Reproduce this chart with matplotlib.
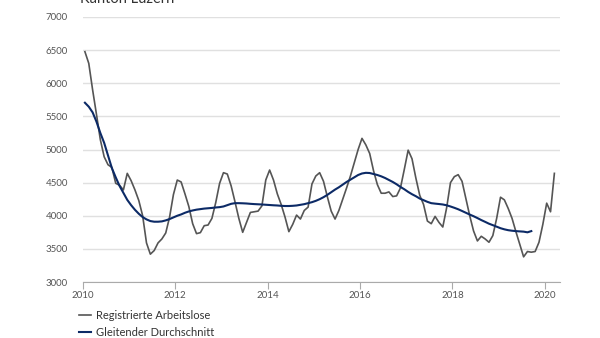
import numpy as np
import matplotlib
matplotlib.use("Agg")
import matplotlib.pyplot as plt
from matplotlib.lines import Line2D

plt.rcParams['font.family'] = ['Lato', 'DejaVu Sans']

title = "Kanton Luzern"
series_names = ["Registrierte Arbeitslose", "Gleitender Durchschnitt"]
start_year = 2010

# Monthly registered unemployed, Jan 2010 - Mar 2020
arbeitslose = [
    6476, 6300, 5900, 5530, 5150, 4890, 4770, 4730, 4490, 4460, 4390, 4640,
    4530, 4390, 4230, 4000, 3590, 3420, 3475, 3590, 3650, 3740, 3980, 4320,
    4539, 4510, 4330, 4140, 3880, 3730, 3745, 3850, 3860, 3960, 4200, 4489,
    4650, 4630, 4450, 4210, 3960, 3750, 3900, 4050, 4060, 4070, 4150, 4540,
    4690, 4540, 4330, 4170, 3980, 3760, 3870, 4010, 3950, 4080, 4130, 4480,
    4600, 4650, 4520, 4287, 4070, 3950, 4080, 4250, 4420, 4600, 4800, 5000,
    5168, 5070, 4940, 4680, 4470, 4340, 4340, 4360, 4290, 4300, 4420, 4700,
    4990, 4860, 4570, 4310, 4170, 3920, 3880, 3990, 3900, 3830, 4120, 4500,
    4590, 4620, 4520, 4260, 4000, 3770, 3620, 3690, 3650, 3600, 3700, 3960,
    4280, 4240, 4110, 3960, 3760, 3570, 3380, 3460, 3450, 3460, 3600, 3870,
    4190, 4060, 4640,
]

# Moving average, Jan 2010 - Sep 2019
durchschnitt = [
    5706, 5646, 5560, 5420, 5250, 5100, 4910, 4720, 4580, 4450, 4345, 4240,
    4160, 4090, 4030, 3980, 3945, 3920, 3910, 3910, 3915, 3930, 3950, 3975,
    4000, 4020, 4045, 4065, 4080, 4092, 4100, 4108, 4113, 4118, 4125, 4130,
    4140, 4160, 4180, 4190, 4190, 4188, 4185, 4180, 4176, 4173, 4170, 4166,
    4162, 4158, 4155, 4150, 4147, 4147, 4150, 4155, 4165, 4175, 4190, 4205,
    4225, 4250, 4280, 4315, 4355, 4395, 4430, 4470, 4510, 4545, 4580, 4615,
    4638, 4648, 4645, 4630, 4615, 4595, 4570, 4540, 4510, 4475, 4435, 4400,
    4360, 4325, 4295, 4260, 4235, 4210, 4190, 4183, 4177, 4170, 4158, 4140,
    4120, 4098, 4072, 4045, 4018, 3993, 3965, 3935, 3908, 3880, 3858, 3835,
    3812, 3795, 3782, 3774, 3768, 3764, 3760, 3750, 3768,
]

x_ticks = [2010, 2012, 2014, 2016, 2018, 2020]
y_ticks = [3000, 3500, 4000, 4500, 5000, 5500, 6000, 6500, 7000]

gray = "#555555"
navy = "#0c2a66"

def month_pos(n):
    return start_year + (np.arange(n) + 0.5) / 12.0

fig = plt.figure(figsize=(6.0, 3.38), dpi=100)
ax = fig.add_axes([83 / 600, 1 - 282 / 338, (560 - 83) / 600, (282 - 17) / 338])

ax.plot(month_pos(len(arbeitslose)), arbeitslose, color=gray, lw=1.2, zorder=3)
ax.plot(month_pos(len(durchschnitt)), durchschnitt, color=navy, lw=1.5, zorder=4)

ax.set_xlim(2010, 2020.33)
ax.set_ylim(3000, 7000)
ax.set_xticks(x_ticks)
ax.set_xticklabels([str(t) for t in x_ticks])
ax.set_yticks(y_ticks)
ax.set_yticklabels([str(t) for t in y_ticks])

ax.grid(axis='y', color="#e0e0e0", lw=1.0, zorder=0)
ax.set_axisbelow(True)
for side in ("top", "right", "left"):
    ax.spines[side].set_visible(False)
ax.spines["bottom"].set_color("#aaaaaa")
ax.spines["bottom"].set_linewidth(0.8)
ax.tick_params(axis='y', length=0, pad=11, labelsize=7, labelcolor="#555555")
ax.tick_params(axis='x', length=5, width=0.8, color="#aaaaaa", pad=1.5,
               labelsize=7, labelcolor="#555555")

fig.text(80 / 600, 1 - 3 / 338, title, fontsize=10.5, color="#333333",
         ha='left', va='baseline')

handles = [Line2D([], [], color=gray, lw=1.2), Line2D([], [], color=navy, lw=1.5)]
fig.legend(handles, series_names, loc='upper left',
           bbox_to_anchor=(79 / 600, 1 - 310 / 338), frameon=False,
           fontsize=8, handlelength=1.1, handletextpad=0.45,
           labelspacing=0.55, borderaxespad=0, borderpad=0,
           labelcolor="#333333")

fig.savefig("out.png", dpi=100)
